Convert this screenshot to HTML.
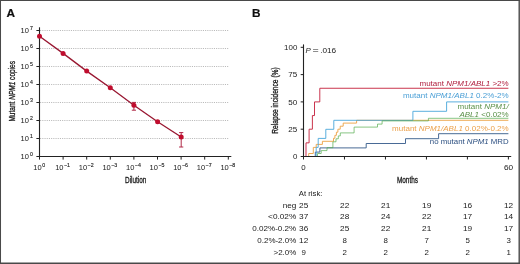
<!DOCTYPE html>
<html><head><meta charset="utf-8"><style>
html,body{margin:0;padding:0;background:#fff;}
svg{display:block;}
</style></head><body>
<svg width="520" height="264" viewBox="0 0 520 264" font-family='"Liberation Sans", sans-serif'>
<defs><filter id="bl" x="-5%" y="-5%" width="110%" height="110%"><feGaussianBlur stdDeviation="0.35"/></filter></defs>
<rect x="0" y="0" width="520" height="264" fill="#fff"/>
<g filter="url(#bl)">
<text x="6.4" y="16.6" font-size="11.8" font-weight="bold" fill="#111" stroke="#111" stroke-width="0.2">A</text>
<line x1="40.1" y1="138.5" x2="228.2" y2="138.5" stroke="#bababa" stroke-width="1" stroke-dasharray="1.1 1.1"/>
<line x1="40.1" y1="120.5" x2="228.2" y2="120.5" stroke="#bababa" stroke-width="1" stroke-dasharray="1.1 1.1"/>
<line x1="40.1" y1="102.5" x2="228.2" y2="102.5" stroke="#bababa" stroke-width="1" stroke-dasharray="1.1 1.1"/>
<line x1="40.1" y1="84.5" x2="228.2" y2="84.5" stroke="#bababa" stroke-width="1" stroke-dasharray="1.1 1.1"/>
<line x1="40.1" y1="66.5" x2="228.2" y2="66.5" stroke="#bababa" stroke-width="1" stroke-dasharray="1.1 1.1"/>
<line x1="40.1" y1="48.5" x2="228.2" y2="48.5" stroke="#bababa" stroke-width="1" stroke-dasharray="1.1 1.1"/>
<line x1="40.1" y1="30.5" x2="228.2" y2="30.5" stroke="#bababa" stroke-width="1" stroke-dasharray="1.1 1.1"/>
<line x1="39.5" y1="27.3" x2="39.5" y2="157.0" stroke="#222" stroke-width="1.1"/>
<line x1="39.0" y1="156.5" x2="231.3" y2="156.5" stroke="#222" stroke-width="1.1"/>
<line x1="36.4" y1="156.5" x2="39.5" y2="156.5" stroke="#222" stroke-width="1"/>
<text x="20.6" y="159.30" font-size="7.5" fill="#1a1a1a">10</text>
<text x="29.9" y="155.70" font-size="5.2" fill="#1a1a1a" stroke="#1a1a1a" stroke-width="0.12">0</text>
<line x1="36.4" y1="138.5" x2="39.5" y2="138.5" stroke="#222" stroke-width="1"/>
<text x="20.6" y="141.30" font-size="7.5" fill="#1a1a1a">10</text>
<text x="29.9" y="137.70" font-size="5.2" fill="#1a1a1a" stroke="#1a1a1a" stroke-width="0.12">1</text>
<line x1="36.4" y1="120.5" x2="39.5" y2="120.5" stroke="#222" stroke-width="1"/>
<text x="20.6" y="123.30" font-size="7.5" fill="#1a1a1a">10</text>
<text x="29.9" y="119.70" font-size="5.2" fill="#1a1a1a" stroke="#1a1a1a" stroke-width="0.12">2</text>
<line x1="36.4" y1="102.5" x2="39.5" y2="102.5" stroke="#222" stroke-width="1"/>
<text x="20.6" y="105.30" font-size="7.5" fill="#1a1a1a">10</text>
<text x="29.9" y="101.70" font-size="5.2" fill="#1a1a1a" stroke="#1a1a1a" stroke-width="0.12">3</text>
<line x1="36.4" y1="84.5" x2="39.5" y2="84.5" stroke="#222" stroke-width="1"/>
<text x="20.6" y="87.30" font-size="7.5" fill="#1a1a1a">10</text>
<text x="29.9" y="83.70" font-size="5.2" fill="#1a1a1a" stroke="#1a1a1a" stroke-width="0.12">4</text>
<line x1="36.4" y1="66.5" x2="39.5" y2="66.5" stroke="#222" stroke-width="1"/>
<text x="20.6" y="69.30" font-size="7.5" fill="#1a1a1a">10</text>
<text x="29.9" y="65.70" font-size="5.2" fill="#1a1a1a" stroke="#1a1a1a" stroke-width="0.12">5</text>
<line x1="36.4" y1="48.5" x2="39.5" y2="48.5" stroke="#222" stroke-width="1"/>
<text x="20.6" y="51.30" font-size="7.5" fill="#1a1a1a">10</text>
<text x="29.9" y="47.70" font-size="5.2" fill="#1a1a1a" stroke="#1a1a1a" stroke-width="0.12">6</text>
<line x1="36.4" y1="30.5" x2="39.5" y2="30.5" stroke="#222" stroke-width="1"/>
<text x="20.6" y="33.30" font-size="7.5" fill="#1a1a1a">10</text>
<text x="29.9" y="29.70" font-size="5.2" fill="#1a1a1a" stroke="#1a1a1a" stroke-width="0.12">7</text>
<line x1="39.50" y1="156.5" x2="39.50" y2="159.6" stroke="#222" stroke-width="1"/>
<text x="33.35" y="169.8" font-size="7.5" fill="#1a1a1a">10</text>
<text x="42.15" y="167.2" font-size="5.3" fill="#1a1a1a" stroke="#1a1a1a" stroke-width="0.12">0</text>
<line x1="63.10" y1="156.5" x2="63.10" y2="159.6" stroke="#222" stroke-width="1"/>
<text x="55.20" y="169.8" font-size="7.5" fill="#1a1a1a">10</text>
<text x="64.00" y="167.2" font-size="5.3" fill="#1a1a1a" stroke="#1a1a1a" stroke-width="0.12">−1</text>
<line x1="86.70" y1="156.5" x2="86.70" y2="159.6" stroke="#222" stroke-width="1"/>
<text x="78.80" y="169.8" font-size="7.5" fill="#1a1a1a">10</text>
<text x="87.60" y="167.2" font-size="5.3" fill="#1a1a1a" stroke="#1a1a1a" stroke-width="0.12">−2</text>
<line x1="110.30" y1="156.5" x2="110.30" y2="159.6" stroke="#222" stroke-width="1"/>
<text x="102.40" y="169.8" font-size="7.5" fill="#1a1a1a">10</text>
<text x="111.20" y="167.2" font-size="5.3" fill="#1a1a1a" stroke="#1a1a1a" stroke-width="0.12">−3</text>
<line x1="133.90" y1="156.5" x2="133.90" y2="159.6" stroke="#222" stroke-width="1"/>
<text x="126.00" y="169.8" font-size="7.5" fill="#1a1a1a">10</text>
<text x="134.80" y="167.2" font-size="5.3" fill="#1a1a1a" stroke="#1a1a1a" stroke-width="0.12">−4</text>
<line x1="157.50" y1="156.5" x2="157.50" y2="159.6" stroke="#222" stroke-width="1"/>
<text x="149.60" y="169.8" font-size="7.5" fill="#1a1a1a">10</text>
<text x="158.40" y="167.2" font-size="5.3" fill="#1a1a1a" stroke="#1a1a1a" stroke-width="0.12">−5</text>
<line x1="181.10" y1="156.5" x2="181.10" y2="159.6" stroke="#222" stroke-width="1"/>
<text x="173.20" y="169.8" font-size="7.5" fill="#1a1a1a">10</text>
<text x="182.00" y="167.2" font-size="5.3" fill="#1a1a1a" stroke="#1a1a1a" stroke-width="0.12">−6</text>
<line x1="204.70" y1="156.5" x2="204.70" y2="159.6" stroke="#222" stroke-width="1"/>
<text x="196.80" y="169.8" font-size="7.5" fill="#1a1a1a">10</text>
<text x="205.60" y="167.2" font-size="5.3" fill="#1a1a1a" stroke="#1a1a1a" stroke-width="0.12">−7</text>
<line x1="228.30" y1="156.5" x2="228.30" y2="159.6" stroke="#222" stroke-width="1"/>
<text x="220.40" y="169.8" font-size="7.5" fill="#1a1a1a">10</text>
<text x="229.20" y="167.2" font-size="5.3" fill="#1a1a1a" stroke="#1a1a1a" stroke-width="0.12">−8</text>
<text x="125" y="182.8" font-size="9" fill="#1a1a1a" stroke="#1a1a1a" stroke-width="0.3" textLength="21.4" lengthAdjust="spacingAndGlyphs">Dilution</text>
<text transform="translate(14.6,121.6) rotate(-90)" font-size="8.5" fill="#1a1a1a" stroke="#1a1a1a" stroke-width="0.3" textLength="60.6" lengthAdjust="spacingAndGlyphs">Mutant <tspan font-style="italic">NPM1</tspan> copies</text>
<polyline fill="none" stroke="#981530" stroke-width="1.3" points="39.5,36.2 63.1,53.4 86.7,71.1 110.3,87.8 133.9,105.2 157.6,121.8 181.2,137.0"/>
<line x1="133.9" y1="102.4" x2="133.9" y2="110.2" stroke="#b02848" stroke-width="1"/>
<line x1="131.8" y1="102.4" x2="136.0" y2="102.4" stroke="#b02848" stroke-width="1"/>
<line x1="131.8" y1="110.2" x2="136.0" y2="110.2" stroke="#b02848" stroke-width="1"/>
<line x1="181.2" y1="132.6" x2="181.2" y2="147.0" stroke="#b02848" stroke-width="1"/>
<line x1="179.1" y1="132.6" x2="183.29999999999998" y2="132.6" stroke="#b02848" stroke-width="1"/>
<line x1="179.1" y1="147.0" x2="183.29999999999998" y2="147.0" stroke="#b02848" stroke-width="1"/>
<circle cx="39.5" cy="36.2" r="2.5" fill="#c0102e"/>
<circle cx="63.1" cy="53.4" r="2.5" fill="#c0102e"/>
<circle cx="86.7" cy="71.1" r="2.5" fill="#c0102e"/>
<circle cx="110.3" cy="87.8" r="2.5" fill="#c0102e"/>
<circle cx="133.9" cy="105.2" r="2.5" fill="#c0102e"/>
<circle cx="157.6" cy="121.8" r="2.5" fill="#c0102e"/>
<circle cx="181.2" cy="137.0" r="2.5" fill="#c0102e"/>
<text x="252.0" y="16.8" font-size="11.8" font-weight="bold" fill="#111" stroke="#111" stroke-width="0.2">B</text>
<line x1="300.7" y1="156.50" x2="303.5" y2="156.50" stroke="#222" stroke-width="1"/>
<text x="297.3" y="159.10" font-size="7.6" fill="#1a1a1a" text-anchor="end" textLength="4.4" lengthAdjust="spacingAndGlyphs">0</text>
<line x1="300.7" y1="129.20" x2="303.5" y2="129.20" stroke="#222" stroke-width="1"/>
<text x="297.3" y="131.80" font-size="7.6" fill="#1a1a1a" text-anchor="end" textLength="9.0" lengthAdjust="spacingAndGlyphs">25</text>
<line x1="300.7" y1="101.90" x2="303.5" y2="101.90" stroke="#222" stroke-width="1"/>
<text x="297.3" y="104.50" font-size="7.6" fill="#1a1a1a" text-anchor="end" textLength="9.0" lengthAdjust="spacingAndGlyphs">50</text>
<line x1="300.7" y1="74.60" x2="303.5" y2="74.60" stroke="#222" stroke-width="1"/>
<text x="297.3" y="77.20" font-size="7.6" fill="#1a1a1a" text-anchor="end" textLength="9.0" lengthAdjust="spacingAndGlyphs">75</text>
<line x1="300.7" y1="47.30" x2="303.5" y2="47.30" stroke="#222" stroke-width="1"/>
<text x="297.3" y="49.90" font-size="7.6" fill="#1a1a1a" text-anchor="end" textLength="13.2" lengthAdjust="spacingAndGlyphs">100</text>
<line x1="303.50" y1="156.5" x2="303.50" y2="159.5" stroke="#222" stroke-width="1"/>
<line x1="344.48" y1="156.5" x2="344.48" y2="159.5" stroke="#222" stroke-width="1"/>
<line x1="385.46" y1="156.5" x2="385.46" y2="159.5" stroke="#222" stroke-width="1"/>
<line x1="426.44" y1="156.5" x2="426.44" y2="159.5" stroke="#222" stroke-width="1"/>
<line x1="467.42" y1="156.5" x2="467.42" y2="159.5" stroke="#222" stroke-width="1"/>
<line x1="508.40" y1="156.5" x2="508.40" y2="159.5" stroke="#222" stroke-width="1"/>
<text x="303.50" y="169.7" font-size="7.5" fill="#1a1a1a" text-anchor="middle" textLength="4.4" lengthAdjust="spacingAndGlyphs">0</text>
<text x="508.5" y="169.7" font-size="7.5" fill="#1a1a1a" text-anchor="middle" textLength="9.2" lengthAdjust="spacingAndGlyphs">60</text>
<text x="396.9" y="183" font-size="9" fill="#1a1a1a" stroke="#1a1a1a" stroke-width="0.3" textLength="21.2" lengthAdjust="spacingAndGlyphs">Months</text>
<text transform="translate(277.6,133.7) rotate(-90)" font-size="8.5" fill="#1a1a1a" stroke="#1a1a1a" stroke-width="0.3" textLength="66.4" lengthAdjust="spacingAndGlyphs">Relapse incidence (%)</text>
<text x="305.5" y="53.3" font-size="7.9" font-style="italic" fill="#1a1a1a">P</text>
<text x="312.6" y="53.3" font-size="7.9" fill="#1a1a1a" textLength="6.2" lengthAdjust="spacingAndGlyphs">=</text>
<text x="320.2" y="53.3" font-size="7.7" fill="#1a1a1a" textLength="16.0" lengthAdjust="spacingAndGlyphs">.016</text>
<path d="M303.5 156.5 H315.3 V152.1 H319.9 V147.9 H366.2 V143.5 H405.5 V138.7 H438.6 V133.7 H508.4" fill="none" stroke="#33598a" stroke-width="0.9" stroke-opacity="1"/>
<path d="M303.5 156.5 H308.7 V153.5 H313.3 V147.4 H316.2 V144.4 H322.4 V141.3 H333.5 V138.3 H334.9 V135.3 H336.4 V132.2 H337.9 V129.2 H340.2 V126.2 H343.2 V123.1 H356.6 V120.3 H508.4" fill="none" stroke="#eca042" stroke-width="0.9" stroke-opacity="1"/>
<path d="M303.5 156.5 H316.2 V147.4 H318.2 V138.4 H325.8 V129.3 H333.8 V120.3 H412.9 V111.3 H446.6 V101.9 H508.4" fill="none" stroke="#48a6da" stroke-width="0.9" stroke-opacity="1"/>
<path d="M303.5 156.5 H317.5 V153.5 H321.2 V150.6 H327 V147.7 H332.9 V141.8 H336 V138.8 H338.3 V135.9 H340.3 V132.9 H354.1 V127.1 H377.5 V124.1 H382.1 V120.9 H428.4 V118.3 H508.4" fill="none" stroke="#4eaa48" stroke-width="0.9" stroke-opacity="0.75"/>
<path d="M303.5 156.5 H306.0 V142.85 H309.1 V129.2 H312.4 V115.55 H314.5 V101.9 H319.8 V88.25 H508.4" fill="none" stroke="#c41e3a" stroke-width="0.9" stroke-opacity="1"/>
<line x1="303.5" y1="44.4" x2="303.5" y2="157.0" stroke="#222" stroke-width="1.1"/>
<line x1="303.0" y1="156.5" x2="511.2" y2="156.5" stroke="#222" stroke-width="1.1"/>
<text x="419.50" y="85.5" font-size="6.7" fill="#b0203f" textLength="89.2" lengthAdjust="spacingAndGlyphs">mutant <tspan font-style="italic">NPM1/ABL1</tspan> &gt;2%</text>
<text x="402.90" y="98.2" font-size="6.7" fill="#4a9fd6" textLength="105.8" lengthAdjust="spacingAndGlyphs">mutant <tspan font-style="italic">NPM1/ABL1</tspan> 0.2%-2%</text>
<text x="457.50" y="108.7" font-size="6.7" fill="#5a9048" textLength="51.2" lengthAdjust="spacingAndGlyphs">mutant <tspan font-style="italic">NPM1/</tspan></text>
<text x="459.40" y="116.7" font-size="6.7" fill="#5a9048" textLength="49.3" lengthAdjust="spacingAndGlyphs"><tspan font-style="italic">ABL1</tspan> &lt;0.02%</text>
<text x="392.10" y="130.8" font-size="6.7" fill="#eba04a" textLength="116.6" lengthAdjust="spacingAndGlyphs">mutant <tspan font-style="italic">NPM1/ABL1</tspan> 0.02%-0.2%</text>
<text x="429.80" y="144.4" font-size="6.7" fill="#2c4f80" textLength="78.9" lengthAdjust="spacingAndGlyphs">no mutant <tspan font-style="italic">NPM1</tspan> MRD</text>
<text x="298.8" y="196" font-size="7.7" fill="#1a1a1a" textLength="23.6" lengthAdjust="spacingAndGlyphs">At risk:</text>
<text x="296.3" y="207.8" font-size="7.6" fill="#1a1a1a" text-anchor="end" textLength="13.6" lengthAdjust="spacingAndGlyphs">neg</text>
<text x="299.10" y="207.8" font-size="7.6" fill="#1a1a1a" textLength="9.2" lengthAdjust="spacingAndGlyphs">25</text>
<text x="340.08" y="207.8" font-size="7.6" fill="#1a1a1a" textLength="9.2" lengthAdjust="spacingAndGlyphs">22</text>
<text x="381.06" y="207.8" font-size="7.6" fill="#1a1a1a" textLength="9.2" lengthAdjust="spacingAndGlyphs">21</text>
<text x="422.04" y="207.8" font-size="7.6" fill="#1a1a1a" textLength="9.2" lengthAdjust="spacingAndGlyphs">19</text>
<text x="463.02" y="207.8" font-size="7.6" fill="#1a1a1a" textLength="9.2" lengthAdjust="spacingAndGlyphs">16</text>
<text x="504.00" y="207.8" font-size="7.6" fill="#1a1a1a" textLength="9.2" lengthAdjust="spacingAndGlyphs">12</text>
<text x="296.3" y="219.4" font-size="7.6" fill="#1a1a1a" text-anchor="end" textLength="28.2" lengthAdjust="spacingAndGlyphs">&lt;0.02%</text>
<text x="299.10" y="219.4" font-size="7.6" fill="#1a1a1a" textLength="9.2" lengthAdjust="spacingAndGlyphs">37</text>
<text x="340.08" y="219.4" font-size="7.6" fill="#1a1a1a" textLength="9.2" lengthAdjust="spacingAndGlyphs">28</text>
<text x="381.06" y="219.4" font-size="7.6" fill="#1a1a1a" textLength="9.2" lengthAdjust="spacingAndGlyphs">24</text>
<text x="422.04" y="219.4" font-size="7.6" fill="#1a1a1a" textLength="9.2" lengthAdjust="spacingAndGlyphs">22</text>
<text x="463.02" y="219.4" font-size="7.6" fill="#1a1a1a" textLength="9.2" lengthAdjust="spacingAndGlyphs">17</text>
<text x="504.00" y="219.4" font-size="7.6" fill="#1a1a1a" textLength="9.2" lengthAdjust="spacingAndGlyphs">14</text>
<text x="296.3" y="231.3" font-size="7.6" fill="#1a1a1a" text-anchor="end" textLength="44.1" lengthAdjust="spacingAndGlyphs">0.02%-0.2%</text>
<text x="299.10" y="231.3" font-size="7.6" fill="#1a1a1a" textLength="9.2" lengthAdjust="spacingAndGlyphs">36</text>
<text x="340.08" y="231.3" font-size="7.6" fill="#1a1a1a" textLength="9.2" lengthAdjust="spacingAndGlyphs">25</text>
<text x="381.06" y="231.3" font-size="7.6" fill="#1a1a1a" textLength="9.2" lengthAdjust="spacingAndGlyphs">22</text>
<text x="422.04" y="231.3" font-size="7.6" fill="#1a1a1a" textLength="9.2" lengthAdjust="spacingAndGlyphs">21</text>
<text x="463.02" y="231.3" font-size="7.6" fill="#1a1a1a" textLength="9.2" lengthAdjust="spacingAndGlyphs">19</text>
<text x="504.00" y="231.3" font-size="7.6" fill="#1a1a1a" textLength="9.2" lengthAdjust="spacingAndGlyphs">17</text>
<text x="296.3" y="243.2" font-size="7.6" fill="#1a1a1a" text-anchor="end" textLength="39.0" lengthAdjust="spacingAndGlyphs">0.2%-2.0%</text>
<text x="299.10" y="243.2" font-size="7.6" fill="#1a1a1a" textLength="9.2" lengthAdjust="spacingAndGlyphs">12</text>
<text x="342.48" y="243.2" font-size="7.6" fill="#1a1a1a" textLength="4.4" lengthAdjust="spacingAndGlyphs">8</text>
<text x="383.46" y="243.2" font-size="7.6" fill="#1a1a1a" textLength="4.4" lengthAdjust="spacingAndGlyphs">8</text>
<text x="424.44" y="243.2" font-size="7.6" fill="#1a1a1a" textLength="4.4" lengthAdjust="spacingAndGlyphs">7</text>
<text x="465.42" y="243.2" font-size="7.6" fill="#1a1a1a" textLength="4.4" lengthAdjust="spacingAndGlyphs">5</text>
<text x="506.40" y="243.2" font-size="7.6" fill="#1a1a1a" textLength="4.4" lengthAdjust="spacingAndGlyphs">3</text>
<text x="296.3" y="255.2" font-size="7.6" fill="#1a1a1a" text-anchor="end" textLength="22.8" lengthAdjust="spacingAndGlyphs">&gt;2.0%</text>
<text x="301.50" y="255.2" font-size="7.6" fill="#1a1a1a" textLength="4.4" lengthAdjust="spacingAndGlyphs">9</text>
<text x="342.48" y="255.2" font-size="7.6" fill="#1a1a1a" textLength="4.4" lengthAdjust="spacingAndGlyphs">2</text>
<text x="383.46" y="255.2" font-size="7.6" fill="#1a1a1a" textLength="4.4" lengthAdjust="spacingAndGlyphs">2</text>
<text x="424.44" y="255.2" font-size="7.6" fill="#1a1a1a" textLength="4.4" lengthAdjust="spacingAndGlyphs">2</text>
<text x="465.42" y="255.2" font-size="7.6" fill="#1a1a1a" textLength="4.4" lengthAdjust="spacingAndGlyphs">2</text>
<text x="506.40" y="255.2" font-size="7.6" fill="#1a1a1a" textLength="4.4" lengthAdjust="spacingAndGlyphs">1</text>
<path d="M0.5 0 V264 M0 0.5 H520" stroke="#4a4a4a" stroke-width="1.05" fill="none"/>
<path d="M519.2 0 V264 M0 263.2 H520" stroke="#4a4a4a" stroke-width="1.4" fill="none"/>
</g>
</svg>
</body></html>
